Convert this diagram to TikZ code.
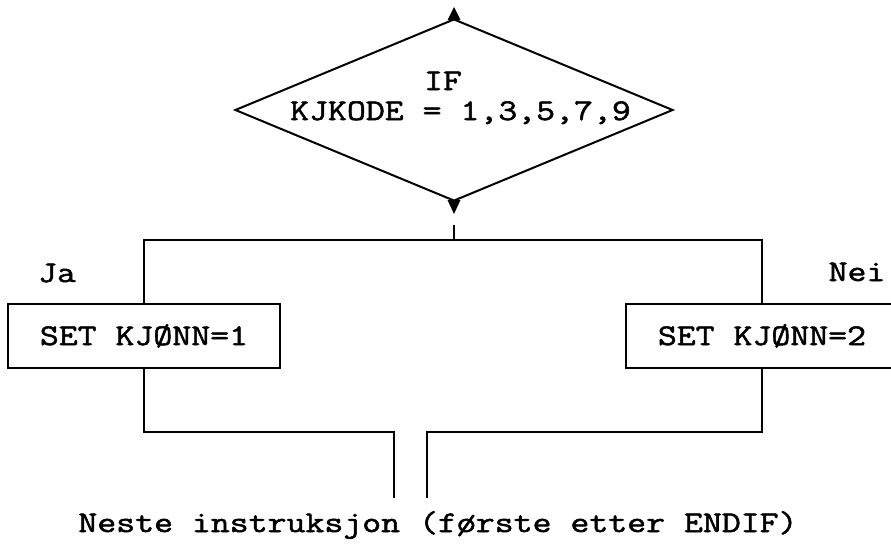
\documentclass[tikz,border=0pt]{standalone}
\usepackage{fontspec}
\newfontfamily\tw{Latin Modern Mono}[FakeBold=1.8, FakeStretch=1.225]
\usetikzlibrary{shapes.geometric,calc}

\tikzset{
  flow/.style={line width=2pt, line join=miter},
  txt/.style={font=\tw\fontsize{30}{30}\selectfont, inner sep=0pt},
  actbox/.style={txt, draw, line width=2pt, minimum width=272pt, minimum height=64pt,
                 text height=18pt, text depth=0pt},
  cond/.style={draw, diamond, line width=2pt, minimum width=438pt, minimum height=182pt,
               inner sep=0pt},
}

\begin{document}
\begin{tikzpicture}[x=1pt, y=-1pt]
  \useasboundingbox (0,0) rectangle (891,544);

  % decision
  \node[cond] (if) at (454,110) {};
  \node[txt, anchor=base] (iflabel) at (443,90) {IF};
  \node[txt, anchor=base] (condlabel) at (460.5,120) {KJKODE = 1,3,5,7,9};

  % flow markers at the diamond tips
  \fill ($(if.north)+(0,-11)$) -- ($(if.north)+(6.5,2)$) -- ($(if.north)+(-6.5,2)$) -- cycle;
  \fill ($(if.south)+(0,12)$) -- ($(if.south)+(6.5,-2)$) -- ($(if.south)+(-6.5,-2)$) -- cycle;

  % branches
  \node[actbox] (yes) at (144,336) {SET KJØNN=1};
  \node[actbox] (no) at (762,336) {SET KJØNN=2};
  \node[txt, anchor=base] (ja) at (57,282) {Ja};
  \node[txt, anchor=base] (nei) at (857,281) {Nei};

  \coordinate (stemtop) at (454,225);
  \coordinate (split) at (454,240);
  \coordinate (mergeL) at (394,432);
  \coordinate (mergeR) at (427,432);
  \coordinate (outL) at (394,498);
  \coordinate (outR) at (427,498);

  \draw[flow] (stemtop) -- (split);
  \draw[flow] (yes.north) |- (split) -| (no.north);
  \draw[flow] (yes.south) |- (mergeL) -- (outL);
  \draw[flow] (no.south) |- (mergeR) -- (outR);

  \node[txt, anchor=base] (next) at (438,532) {Neste instruksjon (første etter ENDIF)};
\end{tikzpicture}
\end{document}
